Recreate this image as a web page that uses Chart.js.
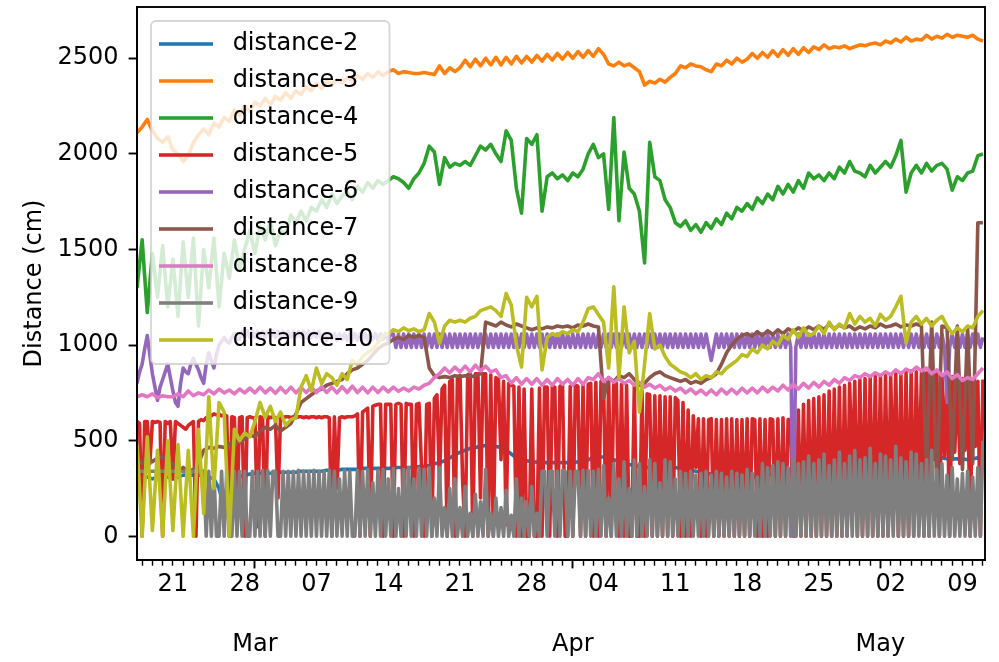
<!DOCTYPE html>
<html>
<head>
<meta charset="utf-8">
<title>Distance sensors</title>
<script src="https://cdn.jsdelivr.net/npm/chart.js@4.4.0/dist/chart.umd.min.js"></script>
<style>
  html, body { margin: 0; padding: 0; background: #fff; }
  canvas { display: block; }
</style>
</head>
<body>
<canvas id="chart" width="999" height="662"></canvas>
<script>
// x values are days since 2022-02-21 (first labelled Monday)
const halfDayStart = -3.5;     // 12-hourly series
const quarterDayStart = -3.5;  // 6-hourly series (distance-5, -6, -9)

const weekTicks = [0, 7, 14, 21, 28, 35, 42, 49, 56, 63, 70, 77];
const weekLabels = ['21', '28', '07', '14', '21', '28', '04', '11', '18', '25', '02', '09'];
const monthTicks = [8, 39, 69];
const monthLabels = ['Mar', 'Apr', 'May'];
const yTicks = [0, 500, 1000, 1500, 2000, 2500];

const seriesNames = ['distance-2', 'distance-3', 'distance-4', 'distance-5', 'distance-6',
  'distance-7', 'distance-8', 'distance-9', 'distance-10'];
const seriesColors = ['#1f77b4', '#ff7f0e', '#2ca02c', '#d62728', '#9467bd',
  '#8c564b', '#e377c2', '#7f7f7f', '#bcbd22'];

// one row per week (14 half-day values), first row = the 3.5 days before
const distance2 = [
  330, 320, 310, 300, 310, 320, 310,
  300, 310, 320, 320, 320, 320, 320, 310, 300, 250, 150, 100, 260, 310,
  320, 325, 330, 330, 330, 330, 335, 335, 335, 335, 335, 340, 340, 340,
  340, 340, 345, 345, 345, 350, 350, 350, 350, 355, 355, 355, 355, 355,
  355, 360, 360, 360, 360, 360, 365, 365, 370, 380, 385, 395, 410, 425,
  440, 450, 460, 465, 470, 475, 475, 470, 465, 450, 430, 410, 400, 395,
  390, 388, 385, 385, 385, 385, 385, 385, 385, 390, 395, 400, 410, 415,
  415, 410, 400, 390, 380, 375, 370, 365, 360, 360, 360, 360, 360, 360,
  360, 355, 350, 345, 340, 335, 330, 325, 320, 320, 315, 315, 310, 310,
  310, 310, 310, 315, 320, 325, 330, 335, 340, 345, 350, 355, 360, 365,
  370, 375, 380, 385, 390, 395, 400, 405, 410, 415, 420, 425, 430, 435,
  440, 440, 440, 440, 435, 430, 425, 420, 415, 410, 410, 405, 405, 405,
  405, 400, 405, 410, 400
];
const distance3 = [
  2110, 2140, 2180, 2120, 2080, 2060, 2090,
  2020, 2000, 1960, 1990, 2060, 2100, 2130, 2100, 2160, 2140, 2190, 2170, 2230, 2200,
  2250, 2220, 2270, 2250, 2290, 2260, 2300, 2280, 2320, 2290, 2330, 2310, 2350, 2330,
  2370, 2340, 2380, 2360, 2390, 2370, 2400, 2380, 2410, 2390, 2420, 2400, 2430, 2410,
  2430, 2440, 2420, 2430, 2425, 2420, 2420, 2425, 2420, 2415, 2460, 2420, 2450, 2430,
  2450, 2490, 2455, 2495, 2460, 2500, 2465, 2505, 2465, 2505, 2470, 2510, 2475, 2510,
  2480, 2515, 2485, 2520, 2490, 2525, 2495, 2530, 2500, 2535, 2505, 2540, 2510, 2550,
  2520, 2470, 2460, 2480, 2460, 2470, 2450, 2430, 2360, 2380, 2370, 2390, 2375, 2400,
  2420, 2460, 2450, 2470, 2460, 2455, 2440, 2430, 2470, 2460, 2490, 2470, 2500, 2480,
  2495, 2525, 2500, 2530, 2505, 2540, 2510, 2545, 2515, 2550, 2520, 2555, 2530, 2560,
  2545, 2570, 2550, 2560, 2555, 2565, 2550, 2560, 2570, 2565, 2575, 2580, 2570, 2590,
  2580, 2600, 2585, 2610, 2590, 2600, 2595, 2620, 2600, 2615, 2605, 2625, 2610, 2620,
  2615, 2610, 2620, 2600, 2590
];
const distance4 = [
  1300, 1550, 1170, 1480, 1250, 1520, 1200,
  1450, 1150, 1540, 1250, 1560, 1100, 1500, 1300, 1560, 1200, 1480, 1350, 1550, 1400,
  1500, 1600, 1480, 1620, 1550, 1650, 1520, 1600, 1580, 1680, 1640, 1700, 1650, 1720,
  1700, 1760, 1720, 1790, 1740, 1780, 1800, 1760, 1830, 1800, 1850, 1820, 1860, 1840,
  1860, 1880, 1870, 1850, 1820, 1870, 1900, 1950, 2040, 2010, 1840, 1980, 1930, 1950,
  1940, 1960, 1940, 1990, 2040, 2020, 2050, 2000, 1960, 2120, 2070, 1820, 1690, 2080,
  2050, 2100, 1700, 1880, 1900, 1870, 1890, 1860, 1900, 1880, 1920, 2000, 2050, 1980,
  2000, 1710, 2190, 1650, 2010, 1820, 1790, 1700, 1430, 2060, 1880, 1860, 1760, 1720,
  1640, 1620, 1650, 1600, 1630, 1590, 1640, 1610, 1660, 1630, 1690, 1660, 1720, 1700,
  1740, 1710, 1770, 1740, 1790, 1760, 1830, 1790, 1840, 1800, 1860, 1820, 1900, 1870,
  1890, 1860, 1900, 1870, 1930, 1900, 1960, 1910, 1900, 1880, 1940, 1900, 1930, 1960,
  1930, 1990, 2070, 1800, 1900, 1940, 1900, 1950, 1910, 1940, 1950, 1920, 1810, 1880,
  1860, 1900, 1910, 1990, 2000
];
const distance7 = [
  400, 380, 420, 390, 410, 415, 400,
  380, 330, 360, 340, 350, 380, 450, 465, 460, 470, 465, 480, 500, 490,
  510, 530, 520, 550, 570, 560, 580, 550, 570, 590, 640, 700, 720, 740,
  760, 770, 790, 800, 810, 820, 850, 870, 880, 900, 920, 950, 980, 1000,
  1010, 1030, 1040, 1030, 1050, 1040, 1050, 1040, 880, 840, 830, 835, 830, 840,
  835, 840, 835, 840, 850, 1120, 1110, 1100, 1120, 1105, 1095, 1110, 1100, 1090,
  1080, 1090, 1085, 1095, 1090, 1100, 1095, 1100, 1090, 1105, 1100, 1110, 1100, 1095,
  720, 830, 810, 840, 830, 850, 820, 790, 800, 830, 850, 860, 840, 830,
  820, 810, 820, 800, 810, 800, 820, 830, 850, 900, 960, 1000, 1030, 1050,
  1060, 1045, 1070, 1050, 1075, 1055, 1080, 1060, 1085, 1070, 1090, 1075, 1095, 1080,
  1100, 1080, 1110, 1085, 1105, 1090, 1100, 1080, 1095, 1085, 1100, 1090, 1110, 1095,
  1100, 1110, 1095, 1105, 1100, 1110, 1100, 350, 1120, 250, 1100, 1090, 400, 1100,
  350, 1090, 380, 1640, 1640
];
const distance8 = [
  730, 740, 730, 745, 725, 735, 730,
  730, 745, 730, 760, 735, 750, 740, 765, 745, 770, 750, 765, 745, 770,
  750, 775, 750, 780, 750, 775, 748, 778, 750, 780, 750, 778, 752, 780,
  752, 782, 752, 780, 750, 782, 752, 785, 752, 780, 750, 780, 752, 780,
  755, 780, 758, 775, 760, 780, 770, 790, 800, 830, 850, 880, 855, 885,
  860, 890, 860, 895, 865, 890, 860, 870, 830, 840, 800, 830, 795, 825,
  795, 825, 790, 820, 790, 825, 795, 820, 790, 825, 795, 830, 820, 850,
  810, 830, 805, 825, 800, 815, 790, 805, 780, 795, 775, 790, 765, 780,
  760, 775, 750, 770, 745, 765, 740, 765, 740, 770, 745, 770, 745, 775,
  750, 775, 750, 780, 755, 780, 760, 790, 765, 795, 770, 800, 775, 805,
  780, 810, 790, 820, 800, 830, 815, 840, 830, 850, 835, 855, 840, 860,
  845, 870, 850, 875, 860, 885, 865, 880, 850, 870, 840, 860, 825, 845,
  815, 830, 820, 850, 880
];
const distance10 = [
  480, 0, 520, 30, 450, 0, 500,
  30, 480, 0, 450, 0, 560, 120, 730, 250, 700, 650, 0, 560, 500,
  540, 520, 600, 700, 620, 680, 600, 650, 580, 610, 620, 780, 840, 760,
  880, 800, 850, 830, 790, 850, 820, 920, 900, 940, 960, 980, 1010, 1050,
  1060, 1080, 1070, 1090, 1075, 1085, 1070, 1080, 1165, 1120, 1010, 1100, 1130, 1120,
  1130, 1120, 1140, 1150, 1180, 1190, 1200, 1180, 1150, 1270, 1210, 1000, 885, 1250,
  1200, 1255, 870, 1040, 1060, 1050, 1070, 1060, 1080, 1070, 1120, 1190, 1200, 1160,
  1120, 880, 1305, 830, 1200, 960, 1020, 650, 900, 1165, 980, 1000, 940, 900,
  880, 860, 850, 830, 850, 820, 840, 830, 860, 850, 880, 900, 920, 950,
  940, 980, 960, 1000, 980, 1020, 1000, 1050, 1030, 1080, 1040, 1090, 1050, 1060,
  1100, 1060, 1120, 1080, 1110, 1090, 1165, 1110, 1150, 1120, 1140, 1100, 1160, 1130,
  1150, 1200, 1255, 1010, 1120, 1150, 1110, 1140, 1100, 1130, 1150, 1100, 1060, 1090,
  1070, 1100, 1090, 1150, 1180
];

// one row per day (4 six-hourly values)
const distance5 = [
  600, 590, 0, 600,   600, 380, 600, 595,   600, 595, 0, 600,   590, 600, 300, 600,
  590, 580, 570, 560,   580, 590, 600, 0,   600, 610, 605, 620,   625, 630, 640, 635,
  640, 630, 635, 630,   0, 625, 620, 100,   620, 625, 0, 620,   625, 620, 620, 50,
  625, 620, 0, 625,   620, 625, 620, 200,   625, 620, 625, 625,   620, 625, 620, 625,
  625, 620, 625, 620,   625, 625, 620, 625,   620, 625, 625, 620,   0, 625, 250, 620,
  625, 620, 625, 625,   625, 630, 640, 0,   650, 660, 670, 0,   680, 685, 690, 690,
  0, 690, 690, 690,   0, 690, 695, 690,   0, 695, 690, 690,   0, 690, 695, 360,
  0, 690, 695, 0,   720, 740, 280, 770,   790, 0, 810, 820,   0, 830, 840, 300,
  0, 845, 850, 0,   850, 850, 200, 850,   850, 0, 845, 0,   830, 820, 400, 810,
  60, 800, 790, 785,   0, 780, 0, 770,   0, 0, 770, 0,   0, 775, 0, 780,
  780, 0, 785, 780,   0, 785, 790, 0,   0, 785, 0, 790,   785, 0, 790, 0,
  795, 800, 0, 805,   0, 810, 815, 0,   815, 0, 810, 800,   0, 795, 0, 790,
  0, 0, 785, 0,   0, 760, 0, 745,   740, 0, 735, 0,   735, 0, 730, 0,
  730, 0, 725, 710,   0, 700, 0, 660,   0, 630, 360, 615,   0, 615, 0, 610,
  615, 0, 610, 0,   610, 0, 615, 0,   615, 0, 610, 0,   610, 0, 615, 0,
  615, 610, 0, 615,   0, 610, 0, 615,   610, 0, 615, 0,   620, 0, 610, 610,
  0, 0, 660, 0,   690, 0, 710, 0,   720, 0, 730, 0,   740, 0, 760, 0,
  770, 0, 780, 0,   790, 0, 800, 300,   810, 0, 820, 0,   825, 0, 830, 0,
  835, 0, 840, 0,   840, 0, 845, 250,   850, 0, 855, 0,   860, 0, 865, 0,
  860, 200, 855, 0,   855, 0, 850, 400,   850, 0, 845, 420,   840, 0, 835, 440,
  830, 380, 825, 450,   820, 0, 815, 470,   810, 0, 820
];
const distance6 = [
  800, 860, 900, 980,   1050, 950, 850, 780,   710, 780, 820, 860,   900, 830, 760, 700,
  680, 800, 880, 860,   850, 900, 930, 900,   870, 830, 800, 900,   960, 920, 880, 950,
  1000, 1020, 1040, 1020,   1010, 1040, 1060, 1030,   1030, 1070, 1040, 1075,
  1040, 1072, 1040, 1072,   1040, 1072, 1040, 1072,   1040, 1072, 1040, 1072,
  1040, 1072, 1040, 1072,   1040, 1072, 1040, 1072,   1040, 1072, 1040, 1072,
  1040, 1072, 1040, 1072,
  1030, 1060, 1025, 1058,   1030, 1060, 1025, 1058,   1030, 1060, 1025, 1058,
  1030, 1060, 1025, 1058,   1030, 1060, 1025, 1058,   1030, 1060, 1025, 1058,
  1030, 1060, 1025, 1058,
  1058, 988, 1058, 988,   1058, 988, 1058, 988,   1058, 988, 1058, 988,   1058, 988, 1058, 988,
  1058, 988, 1058, 988,   1058, 988, 1058, 988,   1058, 988, 1058, 988,   1058, 988, 1058, 988,
  1058, 988, 1058, 988,   1058, 988, 1058, 988,   1058, 988, 1058, 988,   1058, 988, 1058, 988,
  1058, 988, 1058, 988,   1058, 988, 1058, 988,   1058, 988, 1058, 988,   1058, 988, 1058, 988,
  1058, 988, 1058, 988,   1058, 988, 1058, 988,   1058, 988, 1058, 988,   1058, 988, 1058, 988,
  1058, 988, 1058, 988,   1058, 988, 1058, 988,   1058, 988, 1058, 988,   1058, 988, 1058, 988,
  1058, 988, 1058, 988,   1058, 988, 1058, 988,   1058, 988, 1058, 988,   1058, 988, 1058, 988,
  1058, 988, 1058, 988,   1058, 988, 1058, 988,   1058, 988, 1058, 988,
  920, 988, 1058, 988,
  1058, 988, 1058, 988,   1058, 988, 1058, 988,   1058, 988, 1058, 988,   1058, 988, 1058, 988,
  1058, 988, 1058, 988,   1058, 988, 1058, 988,   1058, 988, 1058, 988,
  0, 988, 1058, 988,
  1058, 988, 1058, 988,   1058, 988, 1058, 988,   1058, 988, 1058, 988,   1058, 988, 1058, 988,
  1058, 988, 1058, 988,   1058, 988, 1058, 988,   1058, 988, 1058, 988,   1058, 988, 1058, 988,
  1058, 988, 1058, 988,   1058, 988, 1058, 988,   1058, 988, 1058, 988,   1058, 988, 1058, 988,
  1058, 988, 1058, 988,   1058, 988, 1058, 988,
  700, 988, 1058, 988,
  1058, 988, 1058, 988,   1058, 988, 1058, 988,
  1058, 988, 1040
];
const distance9 = [
  340, 340, 340, 340,   340, 340, 340, 340,   340, 340, 340, 340,   340, 340, 340, 340,
  340, 340, 340, 340,   340, 340, 340, 340,   340, 345, 340, 0,   340, 0, 330, 0,
  0, 340, 0, 340,   0, 0, 340, 0,   340, 0, 340, 0,   0, 340, 0, 340,
  0, 345, 0, 345,   0, 340, 340, 0,   0, 340, 0, 340,   0, 340, 0, 345,
  0, 340, 0, 340,   0, 345, 0, 340,   0, 340, 0, 345,   0, 340, 0, 300,
  0, 345, 0, 340,   0, 0, 345, 0,   340, 0, 350, 0,   280, 0, 345, 0,
  350, 0, 300, 0,   355, 0, 250, 0,   350, 0, 360, 0,   300, 0, 355, 0,
  350, 0, 360, 0,   200, 0, 360, 0,   150, 0, 250, 0,   300, 0, 150, 0,
  260, 0, 120, 0,   220, 0, 180, 0,   350, 0, 120, 0,   200, 0, 150, 0,
  240, 0, 110, 0,   300, 0, 200, 0,   180, 0, 260, 0,   120, 0, 340, 340,
  0, 340, 340, 0,   340, 0, 345, 340,   0, 340, 0, 340,   340, 0, 345, 0,
  345, 0, 340, 0,   350, 0, 370, 0,   200, 0, 380, 0,   300, 0, 390, 0,
  250, 0, 400, 0,   380, 0, 260, 0,   400, 0, 380, 0,   280, 0, 400, 0,
  390, 0, 300, 0,   340, 0, 330, 0,   340, 0, 320, 0,   330, 0, 340, 0,
  320, 0, 340, 0,   330, 0, 310, 0,   340, 0, 330, 0,   320, 0, 350, 0,
  330, 0, 310, 0,   380, 0, 360, 0,   370, 0, 390, 0,   380, 0, 360, 0,
  400, 0, 380, 0,   390, 0, 420, 0,   380, 0, 400, 0,   430, 0, 370, 0,
  400, 0, 440, 0,   380, 0, 420, 0,   450, 0, 400, 0,   410, 0, 460, 0,
  380, 0, 430, 0,   420, 0, 400, 0,   470, 0, 410, 0,   390, 0, 440, 0,
  430, 0, 380, 0,   400, 0, 450, 0,   350, 0, 380, 0,   320, 0, 360, 0,
  300, 0, 330, 0,   340, 0, 310, 0,   360, 0, 500
];

const seriesValues = [distance2, distance3, distance4, distance5, distance6,
  distance7, distance8, distance9, distance10];
const seriesStep = [0.5, 0.5, 0.5, 0.25, 0.25, 0.5, 0.5, 0.25, 0.5];

const toPoints = (values, step) => values.map((y, i) => ({
  x: (step === 0.5 ? halfDayStart : quarterDayStart) + i * step, y
}));

// a daily tick from Feb 18 to May 11
const dayTicks = [];
for (let d = -3; d <= 79; d++) dayTicks.push(d);

// legend sits inside the axes, on a translucent white box above the lines
const legendOnTop = {
  id: 'legendOnTop',
  afterLayout(chart) {
    chart.legend.left += 9;
    chart.legend.top += 19;
  },
  afterDatasetsDraw(chart) {
    const ctx = chart.ctx;
    const legend = chart.legend;
    const boxes = legend.legendHitBoxes;
    const last = boxes[boxes.length - 1];
    const left = boxes[0].left - 8;
    const top = boxes[0].top - 11;
    const right = Math.max(...boxes.map(b => b.left + b.width)) + 16;
    const bottom = last.top + last.height + 12;
    ctx.save();
    ctx.beginPath();
    ctx.roundRect(left, top, right - left, bottom - top, 5);
    ctx.fillStyle = 'rgba(255,255,255,0.8)';
    ctx.fill();
    ctx.lineWidth = 1.8;
    ctx.strokeStyle = 'rgba(204,204,204,0.8)';
    ctx.stroke();
    ctx.restore();
    legend.draw();

    const a = chart.chartArea;
    ctx.save();
    ctx.strokeStyle = '#000';
    ctx.lineWidth = 1.9;
    ctx.strokeRect(a.left, a.top, a.right - a.left, a.bottom - a.top);
    ctx.restore();
  }
};

Chart.defaults.font.family = "'DejaVu Sans', sans-serif";
Chart.defaults.font.size = 24;
Chart.defaults.color = '#000';

const datasets = seriesNames.map((name, i) => ({
  label: name,
  data: toPoints(seriesValues[i], seriesStep[i]),
  borderColor: seriesColors[i],
  backgroundColor: seriesColors[i],
  pointBorderColor: seriesColors[i],
  pointBorderWidth: 3.6,
  borderWidth: 3.6,
  borderJoinStyle: 'round',
  borderCapStyle: 'butt',
  pointRadius: 0,
  pointHoverRadius: 0,
  tension: 0,
  fill: false,
  order: seriesNames.length - i   // later series drawn on top, like matplotlib
}));

new Chart(document.getElementById('chart'), {
  type: 'line',
  data: { datasets },
  options: {
    responsive: false,
    animation: false,
    devicePixelRatio: 1,
    events: [],
    layout: { padding: { top: 7, right: 14, left: 0, bottom: 0 } },
    scales: {
      x: {
        type: 'linear',
        min: -3.5,
        max: 79.2,
        afterBuildTicks(scale) { scale.ticks = dayTicks.map(v => ({ value: v })); },
        afterFit(scale) {
          scale.height = 102;
          scale.paddingLeft = 0;
          scale.paddingRight = 0;
        },
        ticks: {
          autoSkip: false,
          maxRotation: 0,
          minRotation: 0,
          padding: 1,
          font: { size: 24, lineHeight: 1.25 },
          callback(value) {
            const w = weekTicks.indexOf(value);
            if (w >= 0) return weekLabels[w];
            const m = monthTicks.indexOf(value);
            if (m >= 0) return ['', '', monthLabels[m]];
            return '';
          }
        },
        grid: {
          drawOnChartArea: false,
          tickLength: 8.4,
          tickColor: '#000',
          tickWidth: ctx => monthTicks.includes(ctx.tick.value) ? 1.9 : 1.4,
          tickBorderDash: ctx => monthTicks.includes(ctx.tick.value) ? [] : [4.8, 40]
        },
        border: { display: true, color: '#000', width: 1.9 }
      },
      y: {
        min: -124,
        max: 2768,
        afterBuildTicks(scale) { scale.ticks = yTicks.map(v => ({ value: v })); },
        afterFit(scale) {
          scale.width = 137;
          scale.paddingTop = 0;
          scale.paddingBottom = 0;
        },
        ticks: { padding: 10, callback: value => String(value) },
        grid: { drawOnChartArea: false, tickLength: 8.4, tickColor: '#000', tickWidth: 1.9 },
        border: { display: true, color: '#000', width: 1.9 },
        title: {
          display: true,
          text: 'Distance (cm)',
          font: { size: 24 },
          padding: { top: 20, bottom: 0 }
        }
      }
    },
    plugins: {
      tooltip: { enabled: false },
      legend: {
        position: 'chartArea',
        align: 'start',
        labels: {
          usePointStyle: true,
          pointStyle: 'line',
          pointStyleWidth: 54,
          padding: 13,
          font: { size: 24 },
          sort: (a, b) => a.datasetIndex - b.datasetIndex,
          generateLabels(chart) {
            const items = Chart.defaults.plugins.legend.labels.generateLabels(chart);
            items.forEach(item => { item.text = ' ' + item.text; });
            return items;
          }
        }
      }
    }
  },
  plugins: [legendOnTop]
});
</script>
</body>
</html>
